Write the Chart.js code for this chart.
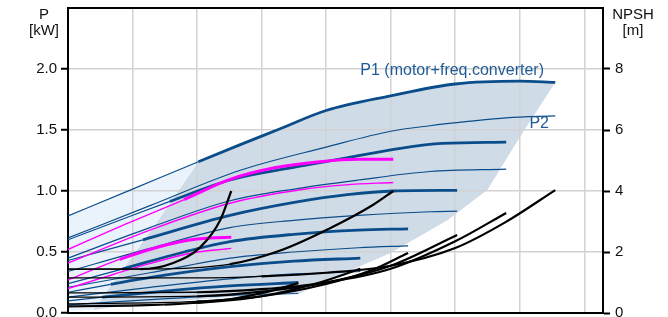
<!DOCTYPE html>
<html><head><meta charset="utf-8">
<script src="https://cdn.jsdelivr.net/npm/chart.js@4/dist/chart.umd.min.js"></script>
<style>html,body{margin:0;padding:0;background:#fff;}canvas{display:block;}</style>
</head><body>
<canvas id="c" width="668" height="317"></canvas>
<script>
// ---- tick values ----
const powerTicks = [0, 0.5, 1.0, 1.5, 2.0];
const npshTicks = [0, 2, 4, 6, 8];
const flowGrid = [0, 1, 2, 3, 4, 5, 6, 7, 8];

// ---- P1 (motor + freq. converter) curves, [flow, kW] ----
const P1_A = [[0,0.795],[1,1.015],[2.02,1.24],[2.67,1.38],[3.24,1.50],[4,1.66],[5,1.78],[6,1.877],[7,1.90],[7.55,1.89]];
const P1_B = [[0,0.60],[0.8,0.76],[1.58,0.915],[2.51,1.09],[3.55,1.20],[4.3,1.27],[5.15,1.35],[5.8,1.39],[6.79,1.40]];
const P1_C = [[0,0.43],[1.16,0.60],[2.51,0.80],[3.55,0.91],[4.33,0.97],[5.04,1.0],[6.03,1.005]];
const P1_D = [[0,0.24],[0.84,0.36],[1.8,0.50],[2.51,0.585],[3.5,0.645],[4.5,0.68],[5.27,0.69]];
const P1_E = [[0,0.17],[0.66,0.235],[1.5,0.31],[2.51,0.38],[3.5,0.425],[4.53,0.45]];
const P1_F = [[0,0.10],[0.53,0.13],[1.5,0.18],[2.51,0.222],[3.57,0.25]];
const P1_G = [[0,0.52],[0.9,0.73],[1.8,0.93],[2.51,1.095],[3.2,1.19],[3.9,1.24],[4.5,1.26],[5.04,1.26]];
const P1_H = [[0,0.27],[0.6,0.40],[0.8,0.44],[1.43,0.545],[1.84,0.595],[2.2,0.615],[2.53,0.62]];

// ---- P2 curves, [flow, kW] ----
const P2_A = [[0,0.615],[1.27,0.88],[2.67,1.17],[4,1.36],[5,1.49],[5.61,1.535],[6.2,1.57],[6.79,1.60],[7.55,1.615]];
const P2_B = [[0,0.45],[1.27,0.70],[2.51,0.92],[3.55,1.02],[4.5,1.09],[5.61,1.16],[6.79,1.18]];
const P2_C = [[0,0.34],[1.27,0.53],[2.51,0.70],[3.5,0.76],[4.5,0.80],[5.61,0.83],[6.03,0.835]];
const P2_D = [[0,0.21],[1.27,0.33],[2.51,0.45],[3.5,0.50],[4.5,0.535],[5.27,0.55]];
const P2_E = [[0,0.13],[1.27,0.21],[2.51,0.28],[3.5,0.32],[4.53,0.34]];
const P2_F = [[0,0.066],[1.27,0.11],[2.51,0.145],[3.57,0.16]];
const P2_G = [[0,0.41],[1.27,0.68],[2.51,0.90],[3.6,1.01],[4.3,1.05],[5.04,1.07]];
const P2_H = [[0,0.20],[0.6,0.30],[1.1,0.38],[1.9,0.49],[2.53,0.53]];

// ---- NPSH curves, [flow, m] ----
const NPSH_A = [[0,1.15],[2,1.15],[3,1.2],[4,1.32],[5,1.55],[6,2.13],[6.78,2.98],[7.55,4.03]];
const NPSH_B = [[0,0.66],[2,0.68],[3,0.78],[4,1.0],[5,1.45],[6,2.35],[6.79,3.28]];
const NPSH_C = [[0,0.52],[2,0.55],[3,0.7],[4,1.0],[5,1.55],[6.03,2.56]];
const NPSH_D = [[0,0.30],[2,0.38],[3,0.55],[4,0.95],[4.7,1.4],[5.27,1.97]];
const NPSH_E = [[0,0.23],[2,0.33],[3,0.55],[3.9,1.0],[4.53,1.45]];
const NPSH_F = [[0,0.2],[1.5,0.27],[2.5,0.45],[3.1,0.7],[3.57,0.98]];
const NPSH_G = [[0,1.44],[1.5,1.45],[2.51,1.6],[3.29,2.05],[4.06,2.78],[4.73,3.55],[5.04,4.0]];
const NPSH_H = [[0,1.44],[1.12,1.44],[1.63,1.64],[2.05,2.16],[2.36,3.05],[2.53,4.0]];

// start of operating range (thick part) per curve: A..F, G, H
const opStart = [2.02, 1.58, 1.16, 0.84, 0.66, 0.53, 1.8, 0.8];

// ---- operating area outlines, [flow, kW] ----
const LIGHT_TOP = [[0,0.795],[1,1.015],[2.02,1.24]];
const LIGHT_BOTTOM = [[0,0.02],[0.39,0.025],[1.32,0.70],[2.02,1.24]];
const GRAY_TOP = [[0.39,0.025],[1.32,0.70],[2.02,1.24],[2.67,1.38],[3.24,1.50],[4,1.66],[4.5,1.725],[5,1.78],[5.5,1.83],[6,1.877],[6.5,1.893],[7,1.90],[7.55,1.89]];
const GRAY_BOTTOM = [[0.39,0.025],[0.91,0.066],[2.67,0.14],[3.6,0.164],[4.29,0.33],[4.99,0.49],[5.88,0.76],[6.5,1.01],[7.0,1.44],[7.55,1.89]];

const BLUE = '#0b4d8a', PINK = '#ff00ff', BLACK = '#000000';
const FONT = "'Liberation Sans', Arial, sans-serif";

const pts = a => a.map(([x, y]) => ({x, y}));
const datasets = [];
// fills (indices 0..3)
datasets.push({data: pts(LIGHT_TOP), fill: 1, backgroundColor: '#eaf3fb', borderWidth: 0, pointRadius: 0, tension: 0, order: 10});
datasets.push({data: pts(LIGHT_BOTTOM), fill: false, borderWidth: 0, pointRadius: 0, tension: 0, order: 10});
datasets.push({data: pts(GRAY_TOP), fill: 3, backgroundColor: '#cfdbe7', borderWidth: 0, pointRadius: 0, tension: 0, order: 10});
datasets.push({data: pts(GRAY_BOTTOM), fill: false, borderWidth: 0, pointRadius: 0, tension: 0, order: 10});

function addLine(data, color, thinW, thickW, start, order, axis) {
  const ds = {data: pts(data), borderColor: color, borderWidth: thinW, pointRadius: 0, fill: false,
    cubicInterpolationMode: 'monotone', order: order, yAxisID: axis, borderCapStyle: 'butt'};
  if (start !== null) {
    ds.segment = {borderWidth: ctx => (ctx.p0.parsed.x >= start - 1e-9 ? thickW : thinW)};
  }
  datasets.push(ds);
}
const P1s = [P1_A, P1_B, P1_C, P1_D, P1_E, P1_F];
const P2s = [P2_A, P2_B, P2_C, P2_D, P2_E, P2_F];
const Ns = [NPSH_A, NPSH_B, NPSH_C, NPSH_D, NPSH_E, NPSH_F, NPSH_G, NPSH_H];
P2s.forEach(d => addLine(d, BLUE, 1.2, 1.2, null, 3, 'y'));
P1s.forEach((d, i) => addLine(d, BLUE, 1.2, 2.8, opStart[i], 2, 'y'));
addLine(P2_G, PINK, 1.4, 1.4, null, 1, 'y');
addLine(P2_H, PINK, 1.4, 1.4, null, 1, 'y');
addLine(P1_G, PINK, 1.4, 3, opStart[6], 1, 'y');
addLine(P1_H, PINK, 1.4, 3, opStart[7], 1, 'y');
Ns.forEach((d, i) => addLine(d, BLACK, 1.3, 2.2, opStart[i], 0, 'y2'));

const noPad = s => { s.paddingTop = 0; s.paddingBottom = 0; s.paddingLeft = 0; s.paddingRight = 0; };

const deco = {
  id: 'deco',
  afterDraw(chart) {
    const {ctx, chartArea: a, scales} = chart;
    ctx.save();
    ctx.strokeStyle = '#000'; ctx.lineWidth = 2;
    ctx.beginPath(); ctx.moveTo(a.left - 1, a.top); ctx.lineTo(a.right + 1, a.top); ctx.stroke();
    ctx.font = '15px ' + FONT; ctx.fillStyle = '#111'; ctx.textAlign = 'center'; ctx.textBaseline = 'middle';
    ctx.fillText('P', a.left - 24, 15);
    ctx.fillText('[kW]', a.left - 24, 31);
    ctx.fillText('NPSH', a.right + 30, 15);
    ctx.fillText('[m]', a.right + 30, 31);
    ctx.fillStyle = '#1f5b96'; ctx.textAlign = 'left';
    ctx.font = '16px ' + FONT;
    ctx.fillText('P1 (motor+freq.converter)', scales.x.getPixelForValue(4.53), scales.y.getPixelForValue(1.99));
    ctx.fillText('P2', scales.x.getPixelForValue(7.15), scales.y.getPixelForValue(1.55));
    ctx.restore();
  }
};

new Chart(document.getElementById('c'), {
  type: 'line',
  data: {datasets},
  options: {
    responsive: false, animation: false, devicePixelRatio: 1,
    layout: {padding: {top: 8, left: 0, right: 0, bottom: 0}},
    plugins: {legend: {display: false}, tooltip: {enabled: false}, filler: {drawTime: 'beforeDraw', propagate: false}},
    scales: {
      x: {type: 'linear', min: 0, max: 8.29,
        afterBuildTicks: s => { s.ticks = flowGrid.map(v => ({value: v})); },
        ticks: {display: false},
        grid: {color: '#d2d2d2', lineWidth: 1.5, drawTicks: false},
        border: {display: true, color: '#000', width: 2},
        afterFit: s => { s.height = 4; noPad(s); }},
      y: {position: 'left', min: 0, max: 2.5,
        afterBuildTicks: s => { s.ticks = powerTicks.map(v => ({value: v})); },
        ticks: {callback: v => Number(v).toFixed(1), font: {family: FONT, size: 15}, color: '#111', padding: 4},
        grid: {color: '#d2d2d2', lineWidth: 1.5, tickLength: 7, tickColor: '#000', tickWidth: 2},
        border: {color: '#000', width: 2},
        afterFit: s => { s.width = 68; noPad(s); }},
      y2: {position: 'right', min: 0, max: 10,
        afterBuildTicks: s => { s.ticks = npshTicks.map(v => ({value: v})); },
        ticks: {callback: v => String(v), font: {family: FONT, size: 15}, color: '#111', padding: 5},
        grid: {drawOnChartArea: false, tickLength: 7, tickColor: '#000', tickWidth: 2},
        border: {color: '#000', width: 2},
        afterFit: s => { s.width = 65; noPad(s); }}
    }
  },
  plugins: [deco]
});
</script>
</body></html>
